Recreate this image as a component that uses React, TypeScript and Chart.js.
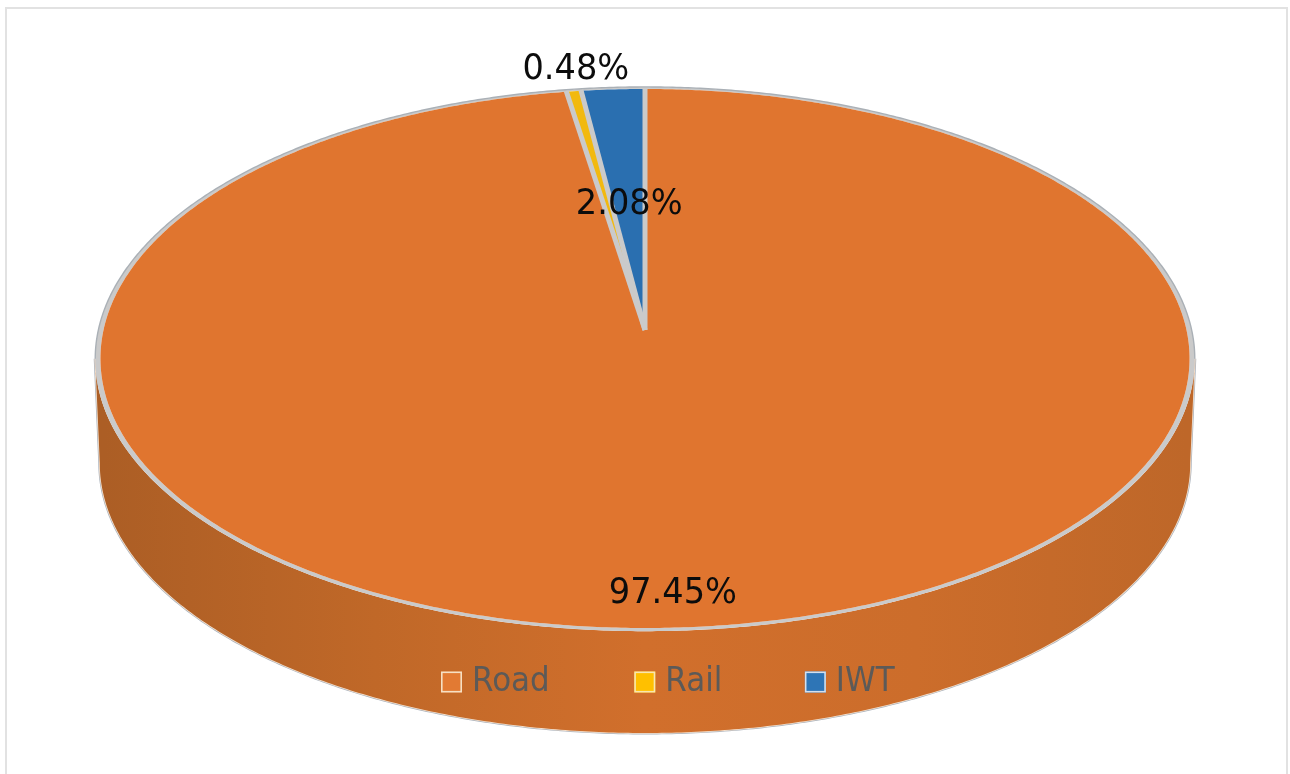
import React, { useEffect, useRef } from "react";
import { Chart, registerables } from "chart.js";

Chart.register(...registerables);

const modes = ["Road", "Rail", "IWT"];
const shares = [97.45, 0.48, 2.08];
const sliceColors = ["#e0752f", "#f2b90f", "#2a6fb0"];
const legendFills = ["#e27a33", "#ffc000", "#2e75b6"];
const legendEdges = ["#f6e0c4", "#f8e6b0", "#d4e0ee"];
const legendGaps = [84.5, 82.5, 0];
// Each value label: how far out along its slice it sits, plus a small sideways nudge.
const labelReach = [0.893, 1.109, 0.5];
const labelNudge = [-15, 9, 1];

const FONT = '"DejaVu Sans", sans-serif';
const TEXT_STRETCH = 1.06;

// The disc is a unit circle seen in perspective.
const VIEW = { cx: 645, cy: 330, rx: 541.5, ry: 266.5, k: 0.1057 };
const RIM = 1.0095;
const FLOOR_SCALE = 1.0012;
const DEPTH = 104.6;
// Angle at which the projected disc reaches its widest point.
const WIDEST = Math.asin(VIEW.k);

type Pt = [number, number];

function project(a: number, f: number, drop = 0): Pt {
  const u = Math.cos(a) * f;
  const v = -Math.sin(a) * f;
  const d = 1 + VIEW.k * v;
  return [VIEW.cx + (VIEW.rx * u) / d, VIEW.cy - (VIEW.ry * v) / d + drop];
}

function arcPoints(a0: number, a1: number, f: number, drop = 0): Pt[] {
  const n = Math.max(2, Math.ceil(Math.abs(a1 - a0) / 0.008));
  const pts: Pt[] = [];
  for (let i = 0; i <= n; i++) pts.push(project(a0 + ((a1 - a0) * i) / n, f, drop));
  return pts;
}

function tracePath(ctx: CanvasRenderingContext2D, pts: Pt[], close = true) {
  ctx.beginPath();
  pts.forEach(([x, y], i) => (i ? ctx.lineTo(x, y) : ctx.moveTo(x, y)));
  if (close) ctx.closePath();
}

// Wall shading runs from darker on the left to brightest near the front.
const WALL_STOPS: [number, string][] = [
  [0, "rgb(172,94,37)"],
  [0.08, "rgb(178,97,38)"],
  [0.25, "rgb(192,104,40)"],
  [0.5, "rgb(209,111,44)"],
  [0.75, "rgb(204,109,43)"],
  [1, "rgb(190,103,41)"],
];

function drawWall(ctx: CanvasRenderingContext2D) {
  const top = arcPoints(WIDEST, Math.PI - WIDEST, RIM);
  const floor = arcPoints(Math.PI - WIDEST, WIDEST, FLOOR_SCALE, DEPTH);
  const shade = ctx.createLinearGradient(VIEW.cx - VIEW.rx, 0, VIEW.cx + VIEW.rx, 0);
  WALL_STOPS.forEach(([at, color]) => shade.addColorStop(at, color));
  tracePath(ctx, [...top, ...floor]);
  ctx.fillStyle = shade;
  ctx.fill();
}

function stretchedText(ctx: CanvasRenderingContext2D, text: string, x: number, y: number) {
  ctx.save();
  ctx.translate(x, y);
  ctx.scale(1, TEXT_STRETCH);
  ctx.fillText(text, 0, 0);
  ctx.restore();
}

const perspectivePie = {
  id: "perspectivePie",
  // Slices take their angles from the pie controller and are painted on the tilted disc.
  beforeDatasetDraw(chart: any, args: any) {
    const ctx: CanvasRenderingContext2D = chart.ctx;
    const arcs: any[] = args.meta.data;
    ctx.save();

    // Outline of the wall, just outside the fill.
    const floorEdge = arcPoints(WIDEST, Math.PI - WIDEST, FLOOR_SCALE, DEPTH);
    const left = project(Math.PI - WIDEST, RIM);
    const right = project(WIDEST, RIM);
    tracePath(ctx, [right, ...floorEdge, left], false);
    ctx.strokeStyle = "#aab2bc";
    ctx.lineWidth = 3;
    ctx.stroke();
    tracePath(ctx, [right, ...floorEdge, left], false);
    ctx.strokeStyle = "#f5dfca";
    ctx.lineWidth = 1.6;
    ctx.stroke();

    drawWall(ctx);

    arcs.forEach((el) => {
      const rim = [...arcPoints(el.startAngle, el.endAngle, RIM), ...arcPoints(el.endAngle, el.startAngle, 1)];
      tracePath(ctx, rim);
      ctx.fillStyle = el.options.borderColor;
      ctx.fill();
      tracePath(ctx, [[VIEW.cx, VIEW.cy], ...arcPoints(el.startAngle, el.endAngle, 1)]);
      ctx.fillStyle = el.options.backgroundColor;
      ctx.fill();
    });

    // Thin darker line along the outer edge of the rim.
    tracePath(ctx, arcPoints(Math.PI - WIDEST, Math.PI * 2 + WIDEST, RIM), false);
    ctx.strokeStyle = "#aab0b6";
    ctx.lineWidth = 1.4;
    ctx.stroke();

    // Dividers between slices.
    arcs.forEach((el) => {
      tracePath(ctx, [[VIEW.cx, VIEW.cy], project(el.startAngle, 1.004)], false);
      ctx.strokeStyle = el.options.borderColor;
      ctx.lineWidth = el.options.borderWidth;
      ctx.lineCap = "butt";
      ctx.stroke();
    });

    ctx.restore();
    return false;
  },
  afterDraw(chart: any) {
    const ctx: CanvasRenderingContext2D = chart.ctx;
    const arcs: any[] = chart.getDatasetMeta(0).data;
    ctx.save();

    // Value labels.
    ctx.font = `33.6px ${FONT}`;
    ctx.fillStyle = "#0c0c0c";
    ctx.textAlign = "center";
    ctx.textBaseline = "middle";
    arcs.forEach((el, i) => {
      const [x, y] = project((el.startAngle + el.endAngle) / 2, labelReach[i]);
      stretchedText(ctx, `${shares[i].toFixed(2)}%`, x + labelNudge[i], y + 1.5);
    });

    // Legend row across the front of the wall.
    ctx.font = `31px ${FONT}`;
    ctx.textAlign = "left";
    let x = 441;
    const y = 682;
    modes.forEach((mode, i) => {
      ctx.fillStyle = legendFills[i];
      ctx.fillRect(x, y - 10.5, 21, 21);
      ctx.strokeStyle = legendEdges[i];
      ctx.lineWidth = 1.6;
      ctx.strokeRect(x + 0.8, y - 9.7, 19.4, 19.4);
      ctx.fillStyle = "#5c5a58";
      stretchedText(ctx, mode, x + 31, y);
      x += 31 + ctx.measureText(mode).width + legendGaps[i];
    });
    ctx.restore();
  },
  beforeDraw(chart: any) {
    const ctx: CanvasRenderingContext2D = chart.ctx;
    ctx.save();
    ctx.fillStyle = "#ffffff";
    ctx.fillRect(0, 0, chart.width, chart.height);
    ctx.strokeStyle = "#e2e2e2";
    ctx.lineWidth = 2;
    ctx.strokeRect(6, 8, 1281, 800);
    ctx.restore();
  },
};

export default function App() {
  const ref = useRef<HTMLCanvasElement>(null);

  useEffect(() => {
    const chart = new Chart(ref.current as HTMLCanvasElement, {
      type: "pie",
      data: {
        labels: modes,
        datasets: [
          {
            data: shares,
            backgroundColor: sliceColors,
            borderColor: "#cacaca",
            borderWidth: 5,
          },
        ],
      },
      options: {
        animation: false,
        responsive: false,
        devicePixelRatio: 1,
        plugins: { legend: { display: false }, tooltip: { enabled: false } },
      },
      plugins: [perspectivePie],
    } as any);
    return () => chart.destroy();
  }, []);

  return (
    <div style={{ position: "absolute", left: 0, top: 0, width: 1290, height: 774, overflow: "hidden" }}>
      <canvas ref={ref} width={1290} height={774} style={{ display: "block" }} />
    </div>
  );
}
